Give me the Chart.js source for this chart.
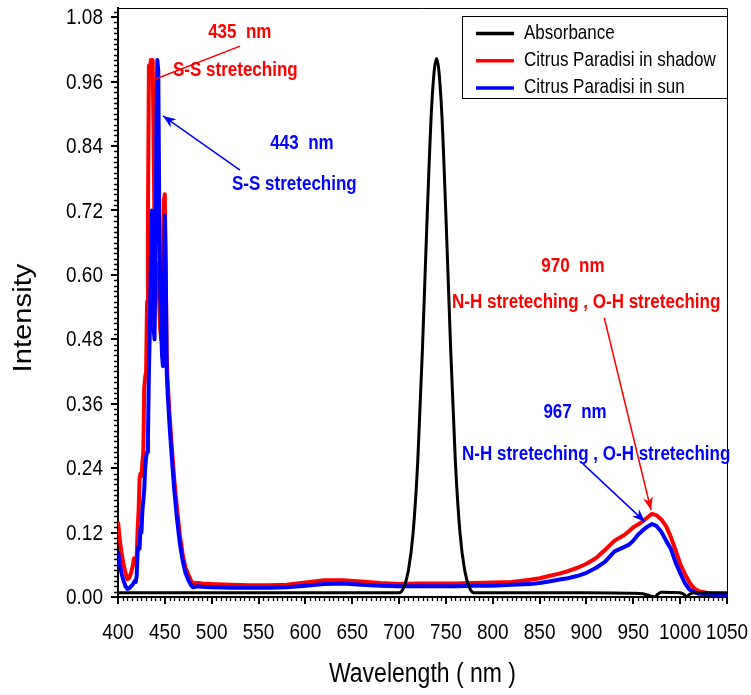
<!DOCTYPE html>
<html>
<head>
<meta charset="utf-8">
<script src="https://cdn.jsdelivr.net/npm/chart.js@4/dist/chart.umd.min.js"></script>
<style>
  html, body { margin: 0; padding: 0; background: #fff; }
  #wrap { width: 751px; height: 695px; }
</style>
</head>
<body>
<div id="wrap"><canvas id="spectrum" width="751" height="695"></canvas></div>
<script>
// wavelength grid (nm) used by both leaf samples
const sampleNm = [
    400, 402, 404, 406, 408, 410, 412, 414, 416, 417, 418, 419, 420, 421, 422, 423, 424, 425, 426, 427,
    428, 429, 430, 431, 432, 433, 434, 435, 436, 437, 438, 439, 440, 441, 442, 443, 444, 445, 446, 447,
    448, 449, 450, 451, 452, 453, 455, 457, 460, 463, 466, 469, 472, 475, 478,
    480, 485, 490, 500, 520, 540, 560, 580, 600, 620, 640, 660, 680, 700, 720, 740, 760, 780, 800, 820,
    840, 850, 860, 870, 880, 890, 900, 910, 920, 930, 940, 945, 950, 955, 960, 965, 970, 975, 980, 985,
    990, 995, 1000, 1005, 1010, 1015, 1020, 1030, 1040, 1050
];

const shadowValues = [
    0.140, 0.105, 0.080, 0.060, 0.045, 0.033, 0.036, 0.045, 0.060, 0.072, 0.062, 0.060, 0.075, 0.130, 0.160, 0.220, 0.230, 0.225, 0.250, 0.270,
    0.390, 0.410, 0.420, 0.550, 0.720, 0.990, 0.970, 1.000, 0.990, 1.000, 0.850, 0.680, 0.600, 0.620, 0.600, 0.580, 0.550, 0.500, 0.480, 0.500,
    0.620, 0.740, 0.750, 0.600, 0.450, 0.400, 0.340, 0.290, 0.220, 0.165, 0.115, 0.080, 0.055, 0.042, 0.030,
    0.026, 0.026, 0.025, 0.024, 0.023, 0.022, 0.022, 0.023, 0.027, 0.031, 0.031, 0.029, 0.026, 0.024, 0.025, 0.025, 0.025, 0.026, 0.027, 0.028,
    0.032, 0.035, 0.039, 0.043, 0.048, 0.054, 0.062, 0.072, 0.088, 0.105, 0.115, 0.122, 0.130, 0.135, 0.141, 0.148, 0.155, 0.152, 0.144, 0.132,
    0.112, 0.088, 0.062, 0.043, 0.027, 0.016, 0.011, 0.007, 0.005, 0.004
];

const sunValues = [
    0.085, 0.060, 0.042, 0.030, 0.020, 0.015, 0.016, 0.020, 0.024, 0.027, 0.030, 0.028, 0.040, 0.085, 0.095, 0.090, 0.130, 0.120, 0.160, 0.180,
    0.200, 0.240, 0.260, 0.270, 0.300, 0.420, 0.500, 0.620, 0.720, 0.700, 0.500, 0.480, 0.620, 0.880, 1.000, 0.980, 0.720, 0.580, 0.500, 0.450,
    0.430, 0.580, 0.710, 0.600, 0.420, 0.380, 0.320, 0.270, 0.200, 0.145, 0.100, 0.068, 0.045, 0.032, 0.022,
    0.018, 0.020, 0.019, 0.018, 0.017, 0.017, 0.017, 0.018, 0.021, 0.024, 0.025, 0.023, 0.021, 0.020, 0.020, 0.020, 0.020, 0.021, 0.021, 0.023,
    0.024, 0.026, 0.029, 0.032, 0.035, 0.039, 0.045, 0.054, 0.066, 0.085, 0.093, 0.097, 0.105, 0.116, 0.124, 0.131, 0.136, 0.132, 0.121, 0.105,
    0.090, 0.065, 0.045, 0.026, 0.014, 0.009, 0.006, 0.005, 0.004, 0.004
];

const absorbNm = [
    400, 500, 600, 700, 705, 710, 715, 720, 725, 730, 735, 740, 745, 750, 755, 760, 765, 770, 775, 780,
    800, 900, 950, 960, 965, 970, 973, 976, 980, 1000, 1004, 1007, 1010, 1014, 1030, 1050
];
const absorbValues = [
    0.008, 0.008, 0.008, 0.008, 0.018, 0.050, 0.120, 0.255, 0.465, 0.710, 0.920, 1.003, 0.920, 0.710, 0.465, 0.255, 0.120, 0.050, 0.018, 0.008,
    0.008, 0.008, 0.007, 0.006, 0.004, 0.001, 0.000, 0.005, 0.009, 0.008, 0.005, 0.001, 0.005, 0.008, 0.008, 0.008
];

const xTicks = [400, 1050, 50];       // min, max, step
const yTicks = [0, 1.097, 0.12];

const FONT = '"Liberation Sans", Arial, sans-serif';
const STRETCH = 1.17;   // the source figure's lettering is drawn taller than normal

function toPoints(xs, ys) {
    return xs.map((x, i) => ({ x: x, y: ys[i] }));
}

// draw text stretched along the vertical of the page
function tallText(ctx, text, x, y, font, align, vertical) {
    ctx.save();
    ctx.translate(x, y);
    if (vertical) {
        ctx.rotate(-Math.PI / 2);
        ctx.scale(STRETCH, 1);
    } else {
        ctx.scale(1, STRETCH);
    }
    ctx.font = font;
    ctx.textAlign = align;
    ctx.textBaseline = 'middle';
    ctx.fillText(text, 0, 0);
    ctx.restore();
}

// text labels and arrows in data coordinates
const notes = [
    { text: '435  nm', x: 530, y: 1.052, color: '#ff0000', align: 'center' },
    { text: 'S-S streteching', x: 458.7, y: 0.980, color: '#ff0000', align: 'left' },
    { text: '443  nm', x: 596.4, y: 0.844, color: '#0000ff', align: 'center' },
    { text: 'S-S streteching', x: 521.7, y: 0.769, color: '#0000ff', align: 'left' },
    { text: '970  nm', x: 885.6, y: 0.616, color: '#ff0000', align: 'center' },
    { text: 'N-H streteching , O-H streteching', x: 756.5, y: 0.549, color: '#ff0000', align: 'left' },
    { text: '967  nm', x: 887.8, y: 0.343, color: '#0000ff', align: 'center' },
    { text: 'N-H streteching , O-H streteching', x: 767.2, y: 0.266, color: '#0000ff', align: 'left' }
];
const arrows = [
    { from: [437.4, 0.963], to: [530.2, 1.026], color: '#ff0000', head: false },
    { from: [530.2, 0.795], to: [448.0, 0.896], color: '#0000ff', head: true },
    { from: [919.0, 0.520], to: [968.9, 0.162], color: '#ff0000', head: true },
    { from: [896.3, 0.248], to: [962.5, 0.140], color: '#0000ff', head: true }
];

const axisDecor = {
    id: 'axisDecor',
    afterDraw(chart) {
        const ctx = chart.ctx;
        const xs = chart.scales.x, ys = chart.scales.y;
        const a = chart.chartArea;
        ctx.save();
        // minor ticks
        ctx.strokeStyle = '#000';
        ctx.lineWidth = 1.3;
        ctx.beginPath();
        for (let i = 0; i <= 109; i++) {
            if (i % 12 === 0) continue;
            const py = Math.round(ys.getPixelForValue(i / 100)) + 0.5;
            ctx.moveTo(a.left - 4, py);
            ctx.lineTo(a.left, py);
        }
        for (let nm = 400; nm <= 1050; nm += 5) {
            if (nm % 50 === 0) continue;
            const px = Math.round(xs.getPixelForValue(nm)) + 0.5;
            ctx.moveTo(px, a.bottom);
            ctx.lineTo(px, a.bottom + 4);
        }
        ctx.stroke();
        // frame top and right
        ctx.lineWidth = 1;
        ctx.beginPath();
        ctx.moveTo(a.left, a.top + 0.5);
        ctx.lineTo(a.right + 0.5, a.top + 0.5);
        ctx.lineTo(a.right + 0.5, a.bottom);
        ctx.stroke();

        // tick labels from the scales' own ticks
        ctx.fillStyle = '#000';
        ys.ticks.forEach(t => {
            tallText(ctx, t.value.toFixed(2), a.left - 15, ys.getPixelForValue(t.value) + 1, '19px ' + FONT, 'right', false);
        });
        xs.ticks.forEach(t => {
            tallText(ctx, String(t.value), xs.getPixelForValue(t.value), a.bottom + 36, '19px ' + FONT, 'center', false);
        });
        // axis titles
        tallText(ctx, 'Wavelength ( nm )', (a.left + a.right) / 2, a.bottom + 78, '23px ' + FONT, 'center', false);
        tallText(ctx, 'Intensity', 24, a.bottom - 279, '25px ' + FONT, 'center', true);
        ctx.restore();
    }
};

const notesPlugin = {
    id: 'notes',
    afterDatasetsDraw(chart) {
        const ctx = chart.ctx;
        const xs = chart.scales.x, ys = chart.scales.y;
        ctx.save();
        arrows.forEach(ar => {
            const x1 = xs.getPixelForValue(ar.from[0]), y1 = ys.getPixelForValue(ar.from[1]);
            const x2 = xs.getPixelForValue(ar.to[0]), y2 = ys.getPixelForValue(ar.to[1]);
            ctx.strokeStyle = ar.color;
            ctx.fillStyle = ar.color;
            ctx.lineWidth = 1.5;
            ctx.beginPath();
            ctx.moveTo(x1, y1);
            ctx.lineTo(x2, y2);
            ctx.stroke();
            if (ar.head) {
                const ang = Math.atan2(y2 - y1, x2 - x1);
                const len = 13, wid = 5;
                ctx.beginPath();
                ctx.moveTo(x2, y2);
                ctx.lineTo(x2 - len * Math.cos(ang) + wid * Math.sin(ang), y2 - len * Math.sin(ang) - wid * Math.cos(ang));
                ctx.lineTo(x2 - len * 0.7 * Math.cos(ang), y2 - len * 0.7 * Math.sin(ang));
                ctx.lineTo(x2 - len * Math.cos(ang) - wid * Math.sin(ang), y2 - len * Math.sin(ang) + wid * Math.cos(ang));
                ctx.closePath();
                ctx.fill();
            }
        });
        notes.forEach(n => {
            ctx.fillStyle = n.color;
            tallText(ctx, n.text, xs.getPixelForValue(n.x), ys.getPixelForValue(n.y), 'bold 17px ' + FONT, n.align, false);
        });

        // legend box in the upper right corner
        const a = chart.chartArea;
        const boxL = a.right - 265, boxT = a.top + 8, boxH = 82;
        ctx.fillStyle = '#fff';
        ctx.fillRect(boxL, boxT, a.right - boxL, boxH);
        ctx.strokeStyle = '#000';
        ctx.lineWidth = 1;
        ctx.strokeRect(boxL + 0.5, boxT + 0.5, a.right - boxL, boxH);
        ['Absorbance', 'Citrus Paradisi in shadow', 'Citrus Paradisi in sun'].forEach((label, i) => {
            const ds = chart.data.datasets.find(d => d.label === label);
            const ry = boxT + 17.5 + i * 27.2;
            ctx.strokeStyle = ds.borderColor;
            ctx.lineWidth = 3.5;
            ctx.beginPath();
            ctx.moveTo(boxL + 14, ry);
            ctx.lineTo(boxL + 52, ry);
            ctx.stroke();
            ctx.fillStyle = '#000';
            tallText(ctx, label, boxL + 62, ry, '17px ' + FONT, 'left', false);
        });
        ctx.restore();
    }
};

new Chart(document.getElementById('spectrum').getContext('2d'), {
    type: 'line',
    data: {
        datasets: [
            {
                label: 'Absorbance',
                data: toPoints(absorbNm, absorbValues),
                borderColor: '#000000',
                borderWidth: 3,
                pointRadius: 0,
                cubicInterpolationMode: 'monotone',
                borderJoinStyle: 'round',
                order: 0
            },
            {
                label: 'Citrus Paradisi in shadow',
                data: toPoints(sampleNm, shadowValues),
                borderColor: '#ff0000',
                borderWidth: 4,
                pointRadius: 0,
                tension: 0,
                borderJoinStyle: 'round',
                order: 2
            },
            {
                label: 'Citrus Paradisi in sun',
                data: toPoints(sampleNm, sunValues),
                borderColor: '#0000ff',
                borderWidth: 4,
                pointRadius: 0,
                tension: 0,
                borderJoinStyle: 'round',
                order: 1
            }
        ]
    },
    options: {
        responsive: false,
        animation: false,
        layout: { padding: { top: 8, right: 24, left: 0, bottom: 0 } },
        plugins: {
            legend: { display: false },
            tooltip: { enabled: false }
        },
        scales: {
            x: {
                type: 'linear',
                min: xTicks[0],
                max: xTicks[1],
                border: { display: true, color: '#000', width: 2 },
                grid: { drawOnChartArea: false, drawTicks: true, tickLength: 7, color: '#000', lineWidth: 2 },
                ticks: { stepSize: xTicks[2], autoSkip: false, maxRotation: 0, display: false },
                afterFit(scale) {
                    scale.height = 98;
                    scale.paddingLeft = 0;
                    scale.paddingRight = 0;
                }
            },
            y: {
                min: yTicks[0],
                max: yTicks[1],
                border: { display: true, color: '#000', width: 2 },
                grid: { drawOnChartArea: false, drawTicks: true, tickLength: 7, color: '#000', lineWidth: 2 },
                ticks: { stepSize: yTicks[2], includeBounds: false, display: false },
                afterFit(scale) {
                    scale.width = 118;
                    scale.paddingTop = 0;
                    scale.paddingBottom = 0;
                }
            }
        }
    },
    plugins: [axisDecor, notesPlugin]
});
</script>
</body>
</html>
